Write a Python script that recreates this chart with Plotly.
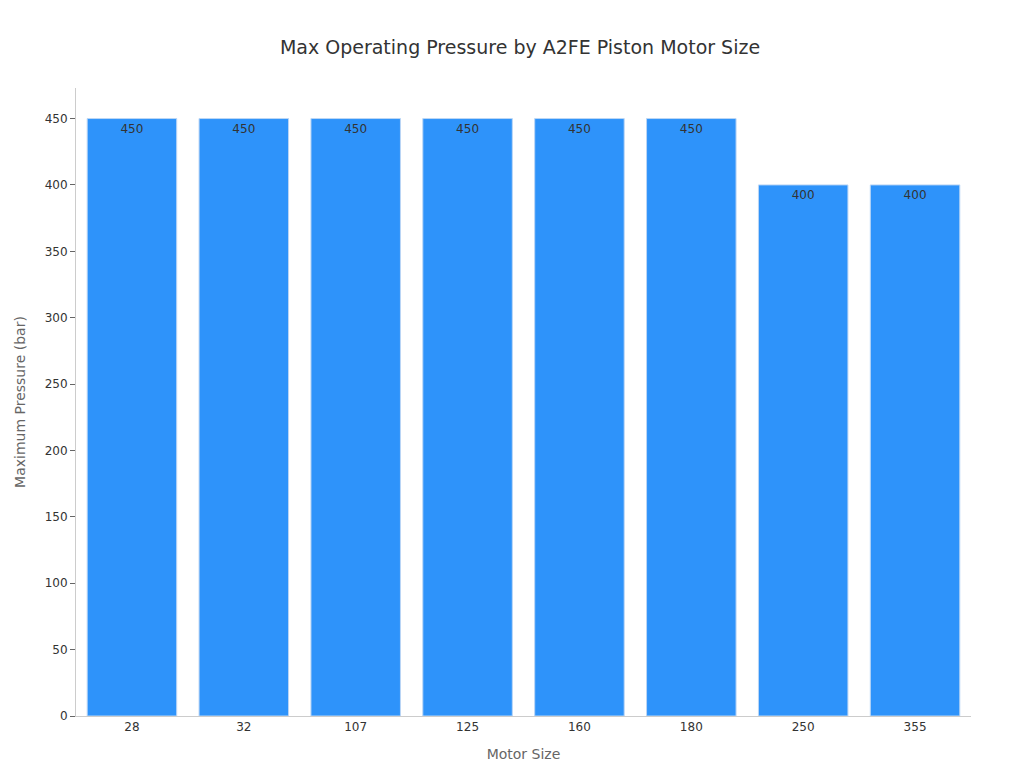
import plotly.graph_objects as go

sizes = ["28", "32", "107", "125", "160", "180", "250", "355"]
pressure = [450, 450, 450, 450, 450, 450, 400, 400]

fig = go.Figure(go.Bar(
    x=sizes, y=pressure, text=[str(v) for v in pressure],
    textposition="inside", insidetextanchor="end",
    textfont=dict(size=12, color="#333333"),
    marker=dict(color="#2E93FA", line=dict(color="#BBD6F5", width=1)),
))
fig.update_layout(
    width=1024, height=768,
    font=dict(family="DejaVu Sans", color="#333333"),
    title=dict(text="Max Operating Pressure by A2FE Piston Motor Size", x=0.5, y=0.957,
               font=dict(size=19, color="#333333")),
    plot_bgcolor="white", paper_bgcolor="white",
    margin=dict(l=68, r=61, t=80, b=60),
    bargap=0.2, showlegend=False,
    xaxis=dict(title=dict(text="Motor Size", font=dict(size=14, color="#666666")),
               type="category", showline=True, linecolor="#cccccc", ticks="",
               tickfont=dict(size=12)),
    yaxis=dict(title=dict(text="Maximum Pressure (bar)", font=dict(size=14, color="#666666")),
               range=[0, 473], dtick=50, showgrid=False, showline=True, linecolor="#cccccc",
               ticks="outside", ticklen=5, tickcolor="#666666", tickfont=dict(size=12)),
)
fig.write_html("out.html")
